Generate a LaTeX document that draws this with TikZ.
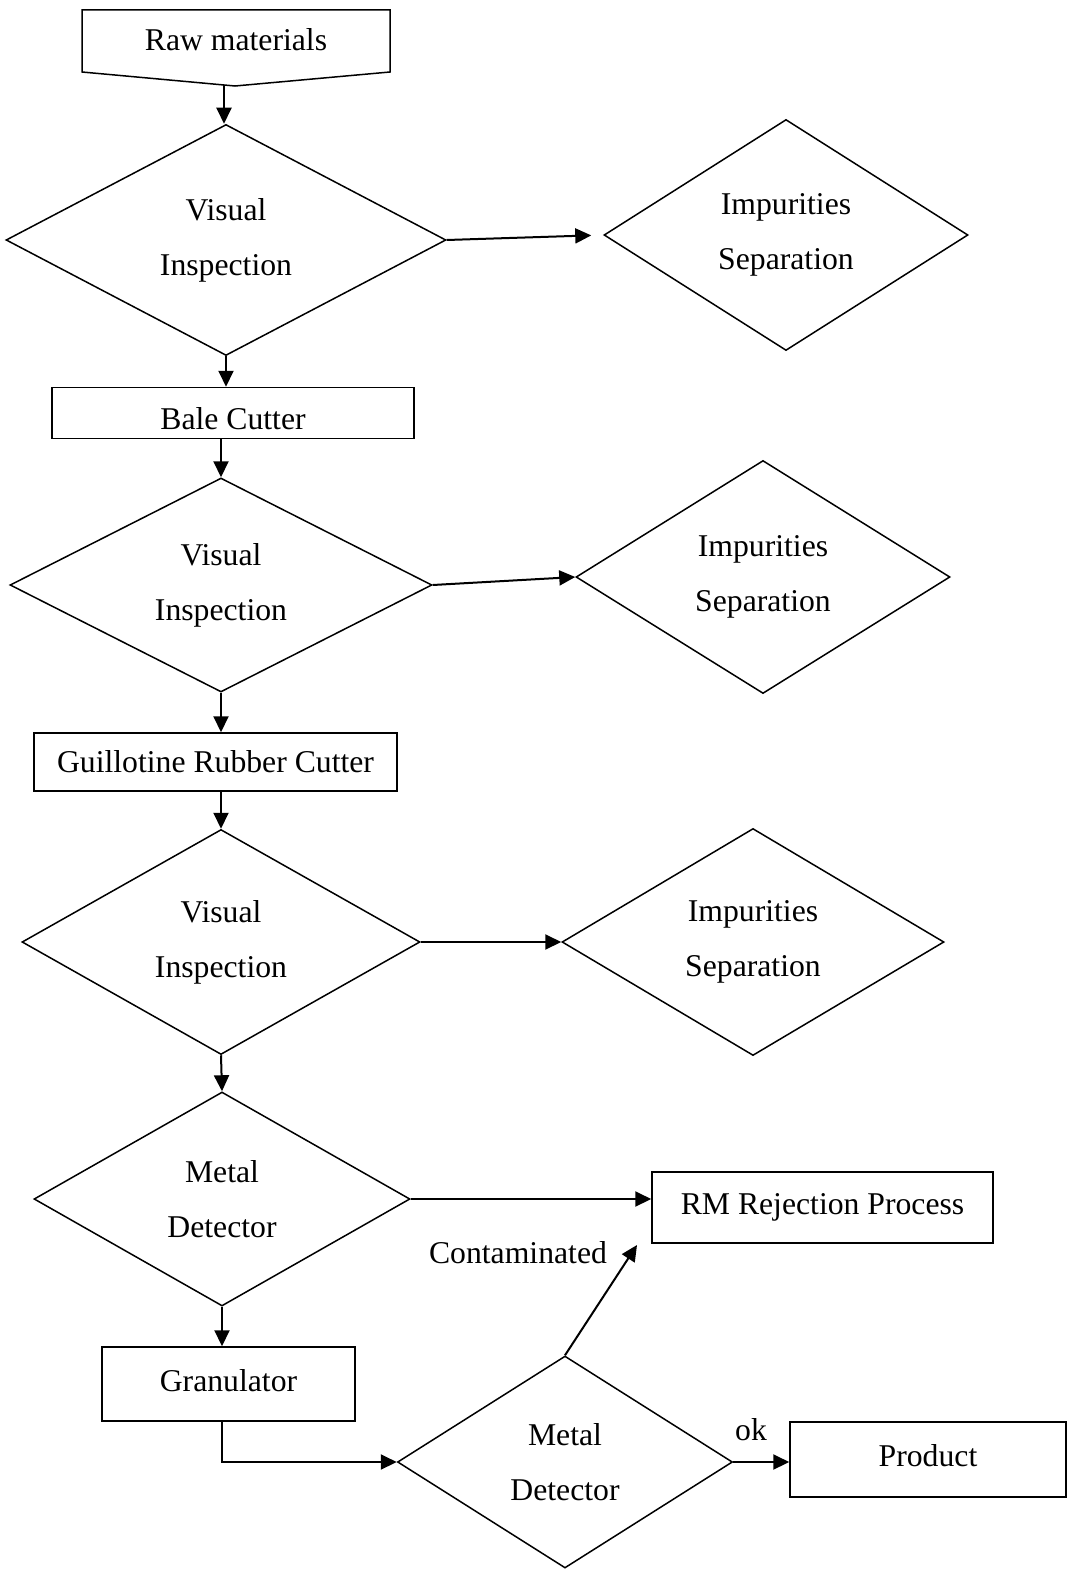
\documentclass[tikz,border=0pt]{standalone}
\usepackage{fontspec}
\setmainfont{Liberation Serif}
\usetikzlibrary{shapes.geometric, arrows.meta}

\begin{document}
\begin{tikzpicture}[x=0.5pt, y=-0.5pt,
	every node/.style={font=\fontsize{15.85}{27.5}\selectfont},
	diam/.style={draw, diamond, aspect=2, inner sep=0pt, line width=0.75pt, align=center},
	box/.style={draw, rectangle, inner sep=0pt, line width=0.75pt},
	flow/.style={line width=1pt, -{Triangle[length=8pt, width=7.5pt]}}]

\useasboundingbox (0,0) rectangle (1068,1573);

% Define coordinates.

	%raw materials
	\draw[line width=0.75pt] (82,10) -- (390,10) -- (390,72) -- (235,86) -- (82,72) -- cycle;
	\node (raw) at (236,40) {Raw materials};
	\coordinate (rawTip) at (224,85);

	%first inspection
	\node[diam, minimum width=220pt, minimum height=115.5pt] (vis1) at (226,240) {Visual\\Inspection};
	\node[diam, minimum width=182pt, minimum height=115.5pt] (imp1) at (786,235) {Impurities\\Separation};
	\node[box, minimum width=181pt, minimum height=25.5pt, text height=16pt, text depth=0pt] (bale) at (233,413) {Bale Cutter};

	%second inspection
	\node[diam, minimum width=211pt, minimum height=107pt] (vis2) at (221,585) {Visual\\Inspection};
	\node[diam, minimum width=187pt, minimum height=116.5pt] (imp2) at (763,577) {Impurities\\Separation};
	\node[box, minimum width=181.5pt, minimum height=29pt] (guil) at (215.5,762) {Guillotine Rubber Cutter};

	%third inspection
	\node[diam, minimum width=199pt, minimum height=112.5pt] (vis3) at (221,942) {Visual\\Inspection};
	\node[diam, minimum width=191pt, minimum height=113.5pt] (imp3) at (753,942) {Impurities\\Separation};

	%metal detectors
	\node[diam, minimum width=188pt, minimum height=107pt] (met1) at (222,1199) {Metal\\Detector};
	\node[box, minimum width=170.5pt, minimum height=35.5pt] (rm) at (822.5,1207.5) {RM Rejection Process};
	\node[box, minimum width=126.5pt, minimum height=37pt, text depth=4pt] (gran) at (228.5,1384) {Granulator};
	\node[box, minimum width=138pt, minimum height=37.5pt, text depth=4pt] (prod) at (928,1459.5) {Product};
	\node[diam, minimum width=167.5pt, minimum height=106pt] (met2) at (565,1462) {Metal\\Detector};
	\coordinate (rmIn) at (637,1245);

% Draw arrows.

	\draw[flow] (rawTip) -- (rawTip |- vis1.north);
	\draw[flow, shorten >=6pt] (vis1.east) -- (imp1.west);
	\draw[flow] (vis1.south) -- (vis1.south |- bale.north);
	\draw[flow] (vis2.north |- bale.south) -- (vis2.north);
	\draw[flow] (vis2.east) -- (imp2.west);
	\draw[flow] (vis2.south) -- (vis2.south |- guil.north);
	\draw[flow] (vis2.south |- guil.south) -- (vis3.north);
	\draw[flow] (vis3.east) -- (imp3.west);
	\draw[flow] (vis3.south) -- (met1.north);
	\draw[flow] (met1.east) -- (met1.east -| rm.west);
	\draw[flow] (met1.south) -- (met1.south |- gran.north);
	\draw[flow] (met1.south |- gran.south) |- (met2.west);
	\draw[flow] (met2.north) -- (rmIn);
	\draw[flow] (met2.east) -- (met2.east -| prod.west);

% Draw labels.

	\node (cont) at (518,1253) {Contaminated};
	\node (ok) at (751,1430) {ok};

\end{tikzpicture}
\end{document}
